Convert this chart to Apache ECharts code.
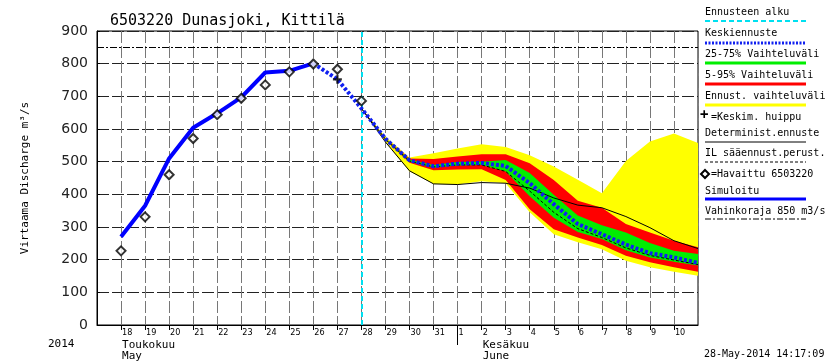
<!DOCTYPE html>
<html><head><meta charset="utf-8">
<script src="https://cdn.jsdelivr.net/npm/echarts@6/dist/echarts.min.js"></script>
<style>html,body{margin:0;padding:0;background:#fff}#c{width:832px;height:364px}</style>
</head><body><div id="c"></div>
<script>
// x values: day of May (June d = 31 + d)
const tickValues = [18,19,20,21,22,23,24,25,26,27,28,29,30,31,32,33,34,35,36,37,38,39,40,41];
const tickLabels = ['18','19','20','21','22','23','24','25','26','27','28','29','30','31','1','2','3','4','5','6','7','8','9','10'];

const obsX = [18,19,20,21,22,23,24,25,26,27,28];
const observed = [227,331,460,571,644,694,735,775,799,783,686];

const simX = [18,19,20,21,22,23,24,25,26];
const simulated = [270,365,510,604,648,697,773,778,801];

const meanX = [26,27,28,29,30,31,32,33,34,35,36,37,38,39,40,41,42];
const meanFc = [801,752,663,570,504,486,494,496,487,434,370,309,278,246,220,207,190];

const bandX = [28,29,30,31,32,33,34,35,36,37,38,39,40,41,42];
const yellowUp = [663,576,513,526,540,553,545,520,485,445,403,502,562,586,557];
const yellowLo = [663,560,470,432,430,440,434,345,278,253,232,197,177,163,151];
const redUp    = [663,572,510,508,516,523,523,495,444,380,359,309,283,258,238];
const redLo    = [663,566,497,474,476,477,444,354,293,268,245,212,192,177,163];
const greenUp  = [663,571,506,490,499,500,505,465,399,335,305,283,251,227,217];
const greenLo  = [663,568,500,482,488,490,470,394,328,285,263,229,207,194,182];

const detFc = [663,560,472,432,430,436,434,419,389,367,359,332,298,258,234];
const ilFc  = [663,568,502,484,490,490,470,410,345,295,268,236,213,199,185];

const peakX = [27];
const peakY = [752];

const forecastStart = 28;
const damageLimit = 850;

const pair = (xs, ys) => xs.map((x, i) => [x, ys[i]]);

const MONO = "'DejaVu Sans Mono', monospace";

function band(lo, up, color, z) {
  const data = bandX.map((x, i) => [x, lo[i], up[i]]);
  return {
    type: 'custom', silent: true, z: z,
    data: data,
    encode: { x: 0, y: [1, 2] },
    renderItem: function (params, api) {
      if (params.dataIndex !== 0) return null;
      const top = data.map(d => api.coord([d[0], d[2]]));
      const bot = data.slice().reverse().map(d => api.coord([d[0], d[1]]));
      return { type: 'polygon', shape: { points: top.concat(bot) },
        style: { fill: color, stroke: null } };
    }
  };
}

const chart = echarts.init(document.getElementById('c'), null, { renderer: 'canvas' });

const legendX1 = 705, legendX2 = 806;
const legendItems = [
  { t: 'Ennusteen alku', y: 7, line: { y: 21, color: '#00e0f0', w: 2, dash: [5, 3] } },
  { t: 'Keskiennuste', y: 28, line: { y: 43, color: '#1020f0', w: 3, dash: [2, 1.5] } },
  { t: '25-75% Vaihteluväli', y: 49, line: { y: 63, color: '#00ee00', w: 3 } },
  { t: '5-95% Vaihteluväli', y: 70, line: { y: 84, color: '#ff0000', w: 3 } },
  { t: 'Ennust. vaihteluväli', y: 91, line: { y: 105, color: '#ffff00', w: 3 } },
  { t: '=Keskim. huippu', y: 112, x: 711 },
  { t: 'Determinist.ennuste', y: 128, line: { y: 142, color: '#000', w: 1 } },
  { t: 'IL sääennust.perust.', y: 148, line: { y: 162, color: '#000', w: 1, dash: [3, 2] } },
  { t: '=Havaittu 6503220', y: 169, x: 711 },
  { t: 'Simuloitu', y: 186, line: { y: 199, color: '#0000ff', w: 3 } },
  { t: 'Vahinkoraja 850 m3/s', y: 206, line: { y: 219, color: '#000', w: 1, dash: [6, 2, 2, 2] } }
];
const graphics = [];
legendItems.forEach(it => {
  graphics.push({ type: 'text', left: it.x || legendX1, top: it.y,
    style: { text: it.t, font: '10px ' + MONO, fill: '#000' } });
  if (it.line) {
    const s = { stroke: it.line.color, lineWidth: it.line.w };
    if (it.line.dash) s.lineDash = it.line.dash;
    graphics.push({ type: 'line', shape: { x1: legendX1, y1: it.line.y, x2: legendX2, y2: it.line.y }, style: s });
  }
});
// legend symbols
graphics.push({ type: 'text', left: 700, top: 108, style: { text: '+', font: 'bold 14px ' + MONO, fill: '#000' } });
graphics.push({ type: 'polygon', shape: { points: [[705, 170], [709, 174], [705, 178], [701, 174]] },
  style: { fill: '#fff', stroke: '#000', lineWidth: 2 } });
// bottom texts
graphics.push({ type: 'text', left: 48, top: 339, style: { text: '2014', font: '11px ' + MONO, fill: '#000' } });
graphics.push({ type: 'text', left: 704, top: 349, style: { text: '28-May-2014 14:17:09', font: '10px ' + MONO, fill: '#000' } });
// axis name
graphics.push({ type: 'text', x: 25, y: 178, rotation: Math.PI / 2,
  style: { text: 'Virtaama Discharge m³/s', font: '11px ' + MONO, fill: '#000', align: 'center', verticalAlign: 'middle' } });

const option = {
  animation: false,
  backgroundColor: '#fff',
  title: { text: '6503220 Dunasjoki, Kittilä', left: 105, top: 9,
    textStyle: { fontFamily: 'DejaVu Sans Mono', fontSize: 15, fontWeight: 'normal', color: '#000' } },
  grid: { left: 97, right: 134, top: 31, bottom: 39, show: true, borderColor: '#000', borderWidth: 1, backgroundColor: 'transparent' },
  xAxis: [{
    type: 'value', min: 17, max: 42, interval: 1,
    axisLine: { show: true, lineStyle: { color: '#000', width: 1 } },
    axisTick: { show: true, length: 5, lineStyle: { color: '#000' } },
    axisLabel: {
      show: true, showMinLabel: false, showMaxLabel: false, align: 'left', margin: 3,
      fontFamily: 'DejaVu Sans Condensed', fontSize: 9, color: '#000', padding: [0, 0, 0, 1],
      formatter: v => { const i = tickValues.indexOf(v); return i >= 0 ? tickLabels[i] : ''; }
    },
    splitLine: { show: true, lineStyle: { color: '#777', width: 1, type: [12, 3] } }
  }, {
    type: 'value', min: 17, max: 42, position: 'bottom',
    axisLine: { show: false },
    axisTick: { show: true, length: 20, customValues: [32], lineStyle: { color: '#000' } },
    axisLabel: { show: true, customValues: [18, 33], align: 'left', margin: 15, lineHeight: 11,
      fontFamily: 'DejaVu Sans Mono', fontSize: 11, color: '#000', padding: [0, 0, 0, 1],
      formatter: v => v === 18 ? 'Toukokuu\nMay' : (v === 33 ? 'Kesäkuu\nJune' : '') },
    splitLine: { show: false }
  }],
  yAxis: {
    type: 'value', min: 0, max: 900, interval: 100,
    axisLine: { show: true, lineStyle: { color: '#000' } },
    axisTick: { show: true, inside: true, length: 3, lineStyle: { color: '#000' } },
    axisLabel: { fontFamily: 'DejaVu Sans', fontSize: 14, color: '#222', margin: 9 },
    splitLine: { show: true, lineStyle: { color: '#222', width: 1, type: [12, 3] } }
  },
  graphic: graphics,
  series: [
    band(yellowLo, yellowUp, '#ffff00', 1),
    band(redLo, redUp, '#ff0000', 2),
    band(greenLo, greenUp, '#00ee00', 3),
    { type: 'line', data: pair(bandX, detFc), symbol: 'none', z: 4,
      lineStyle: { color: '#000', width: 1 } },
    { type: 'line', data: pair(bandX, ilFc), symbol: 'none', z: 4,
      lineStyle: { color: '#000', width: 1, type: [3, 2] } },
    { type: 'line', data: pair(simX, simulated), symbol: 'none', z: 5,
      lineStyle: { color: '#0000ff', width: 4 } },
    { type: 'line', data: pair(meanX, meanFc), symbol: 'none', z: 6,
      lineStyle: { color: '#1020f0', width: 4, type: [3, 2] } },
    { type: 'scatter', data: pair(obsX, observed), symbol: 'diamond', symbolSize: [9, 9], z: 7,
      itemStyle: { color: '#fff', borderColor: '#000', borderWidth: 2 },
      markLine: {
        silent: true, symbol: 'none', label: { show: false },
        data: [
          { yAxis: damageLimit, lineStyle: { color: '#000', width: 1.2, type: [7, 2, 2, 2] } },
          { xAxis: forecastStart, lineStyle: { color: '#00e0f0', width: 2, type: [5, 3] } }
        ]
      } },
    { type: 'scatter', data: pair(peakX, peakY), z: 8, symbolSize: 9,
      symbol: 'path://M3,0h2v3h3v2h-3v3h-2v-3h-3v-2h3z', itemStyle: { color: '#000' } }
  ]
};
chart.setOption(option);
</script></body></html>
